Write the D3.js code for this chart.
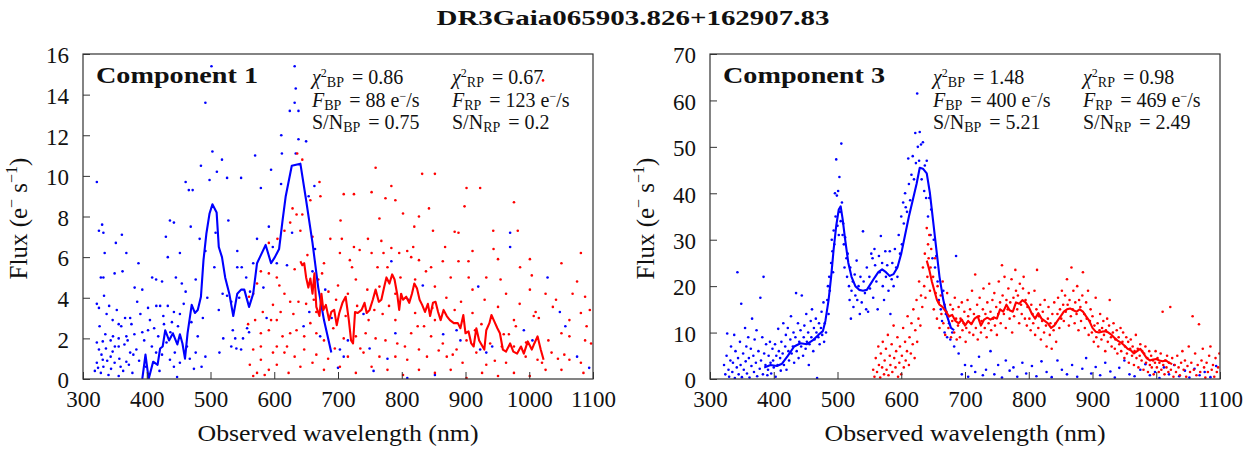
<!DOCTYPE html>
<html>
<head>
<meta charset="utf-8">
<script src="https://cdn.jsdelivr.net/npm/d3@7"></script>
<style>
  body { margin: 0; background: #fff; }
</style>
</head>
<body>
<svg id="chart" width="1255" height="450"></svg>
<script>
// ---- data ----
const chartTitle = "DR3Gaia065903.826+162907.83";
const panelNames = ["Component 1", "Component 3"];
const chi2Bp = ["0.86", "1.48"];
const chi2Rp = ["0.67", "0.98"];
const fluxBp = ["88", "400"];
const fluxRp = ["123", "469"];
const snBp = ["0.75", "5.21"];
const snRp = ["0.2", "2.49"];
const xTicks = [300, 400, 500, 600, 700, 800, 900, 1000, 1100];
const yTicks1 = [0, 2, 4, 6, 8, 10, 12, 14, 16];
const yTicks3 = [0, 10, 20, 30, 40, 50, 60, 70];

// component 1: BP model line (wavelength nm, flux)
const comp1BpLine = [[393,0],[398,1.2],[403,0],[410,0.85],[417,0.7],[421,1.5],[425,1.6],[429,2.4],[435,1.9],[441,2.25],
  [448,1.7],[452,2.2],[456,1.75],[460,1.0],[464,2.25],[470.5,3.65],[475.5,3.25],[480,3.4],[485,4.05],[489,5.85],
  [493.5,7.15],[498.5,8.15],[503,8.6],[509.6,8.2],[513,6.5],[518,6.0],[523,5.0],[529.5,4.2],[535.7,3.1],[542,4.2],
  [548,4.4],[553,4.4],[560.5,3.55],[567,4.2],[573,5.7],[579,6.1],[586.5,6.6],[595,5.7],[601,6.0],[607.6,6.4],
  [613,7.8],[618,9.0],[627.5,10.5],[641,10.6],[650,8.8],[660,6.7],[669,4.5],[678,2.9],[689.5,1.3]];
// component 1: RP model line
const comp1RpLine = [[641,5.8],[644,5.6],[647,5.7],[650,5.0],[653.5,4.5],[656.6,4.95],[660,4.2],[663,5.2],[666,3.55],[671,3.1],
  [674,4.2],[677,3.4],[681,3.65],[686,2.9],[689.5,3.3],[694,3.4],[698,2.65],[702,3.25],[707,3.75],[712,4.05],
  [717,2.9],[720.5,1.9],[723.6,1.75],[726.7,3.3],[731,3.25],[737,3.4],[741.6,3.75],[745,3.25],[749.6,3.4],[754.6,3.9],
  [759,4.4],[764,3.8],[768,3.9],[772.6,4.55],[776,5.0],[780.7,4.7],[785,5.15],[788.7,4.9],[793,4.15],[796,3.4],
  [799,4.2],[802,3.9],[807,4.05],[811.7,3.75],[816,4.2],[819.7,4.7],[824,4.45],[828,3.9],[832,3.65],[836.5,3.3],
  [841,3.7],[844.5,3.1],[849,3.75],[853,3.8],[857,3.3],[861,2.9],[865.6,3.4],[870.6,3.1],[875.5,2.9],[881.7,2.75],
  [888,2.75],[892,2.5],[896.6,3.15],[900,2.25],[904.7,2.35],[909,1.75],[912.8,1.6],[917,2.5],[921.4,1.9],[925,1.7],
  [929.5,1.45],[932.6,2.4],[937.5,2.75],[940.7,3.15],[945,2.85],[950,2.5],[954,2.25],[958.6,1.45],[963.6,1.35],[970,1.75],
  [975,1.35],[981,1.25],[987,1.6],[991.5,1.25],[997.7,1.85],[1004,1.45],[1008,1.75],[1013,2.1],[1018,1.45],[1022.5,0.95]];
// component 1: BP sampled points
const comp1BpPts = [[501.5,15.4],[632,15.4],[633.7,14.3],[492,13.6],[632,13.6],[624.4,13.2],[638,13.2],[611,12.0],[638,11.8],[650,11.7],
  [503,11.2],[518,10.8],[485,10.5],[510,10.2],[612,11.1],[595,10.3],[570,11.0],[633.7,11.1],[498.5,9.8],[526,9.9],
  [548,9.9],[610.7,9.6],[663,9.5],[466,9.3],[472,9.3],[579,9.4],[461,9.7],[321.7,9.7],[330,7.6],[325,7.3],
  [332,7.2],[436.4,7.8],[442.6,7.7],[361,7.1],[430,7.0],[351.5,6.7],[469,7.5],[483,6.9],[492,6.3],[508,7.2],
  [528,7.8],[542,6.3],[573,6.9],[591.5,7.5],[597.7,6.5],[604,5.7],[567,5.7],[549,5.5],[542,5.5],[433,6.0],
  [452,6.2],[334,6.2],[368,6.2],[387,5.7],[362,5.3],[349.6,5.2],[328,5.0],[332,5.0],[381,4.5],[393,4.4],
  [408.5,5.0],[414.7,4.9],[424,4.8],[445.7,5.0],[455,4.7],[461,4.3],[476.8,4.9],[519,4.2],[526,4.1],[532.6,3.8],
  [545,4.0],[562,4.3],[333,4.1],[321.7,3.7],[325,3.5],[337,3.2],[346.5,2.9],[356,2.7],[374,3.0],[390,3.2],
  [402,3.5],[415,3.6],[421,3.6],[433,3.6],[442.6,3.3],[452,3.2],[439.5,2.8],[427,2.7],[411.6,2.5],[402,2.4],
  [393,2.3],[380.6,2.2],[368,2.1],[356,2.0],[343.4,1.9],[331,1.85],[321.7,1.8],[325,1.45],[336,1.5],[346.5,1.35],
  [356,1.6],[365,1.7],[374,1.3],[383.7,1.45],[343.4,1.1],[331,0.95],[321.7,0.8],[323.6,0.55],[332,0.6],[349.6,0.8],
  [359,0.6],[368,0.85],[318.6,0.4],[328,0.3],[340,0.2],[356,0.15],[377.5,0.3],[414.7,1.3],[424,1.2],[436.4,0.95],
  [442.6,0.6],[452,0.8],[447.6,0.1],[467.5,1.0],[476.8,1.3],[486,0.6],[492,1.1],[514,1.3],[532.6,1.6],[540.6,1.5],
  [548,1.45],[551,2.0],[538.8,2.0],[557.4,2.5],[560.5,2.3],[520,2.0],[700,0.55],[709,1.1],[749.6,1.5],[777.6,1.0],
  [790,2.25],[783.7,5.8],[833,4.6],[886,2.4],[892,1.9],[920,4.55],[923,1.45],[932.6,1.3],[970,7.2],[970,6.5],
  [991.5,2.4],[1028.7,5.0],[1056.6,2.6],[1075,1.1],[1094,0.55],[941.9,1.6],[852,0.2],[808.7,0.05],[755.8,0.4],[715.5,1.9],
  [703,1.45],[690,3.0],[680,4.4],[672,2.1],[655,3.3],[646,2.6],[660,5.3],[740,3.2],[810,3.9],[865,2.2],
  [1005,1.9],[1048,3.3],[326,2.6],[329,1.2],[335,2.2],[338,0.9],[341,3.6],[344,0.5],[347,2.1],[350,1.6],
  [353,3.4],[357,1.0],[360,2.6],[363,0.4],[366,3.0],[370,1.9],[372,0.7],[376,2.7],[379,1.2],[385,3.8],
  [388,0.9],[396,1.9],[399,0.6],[405,2.9],[408,1.6],[418,2.1],[420,0.4],[426,3.1],[431,1.8],[437,2.3],
  [444,1.3],[449,2.6],[458,3.7],[463,1.6],[470,2.8],[474,0.5],[480,2.1],[488,3.0],[495,4.0],[506,5.5],
  [513,3.4],[535,2.4],[556,5.0],[583,4.5],[588,3.0],[620,5.6],[628,7.2],[654,9.0],[664,6.4]];
// component 1: RP sampled points
const comp1RpPts = [[1021.6,14.7],[636,11.1],[644,10.8],[759,10.4],[832,10.1],[852,10.1],[671,9.7],[783.7,9.5],[901.6,9.4],[923,9.4],
  [709,9.1],[725,9.1],[752.7,9.2],[672.4,9.0],[790,8.8],[774.5,8.9],[656.6,8.8],[976,8.7],[898.5,8.5],[842.7,8.4],
  [827,8.0],[628.7,8.4],[635,8.1],[644,8.1],[765,7.9],[704,7.8],[802,8.15],[819.7,7.5],[883,7.25],[889,7.2],
  [943.5,7.3],[982,7.3],[1081,6.2],[849,7.3],[747,6.9],[688,6.9],[706,6.9],[725,6.5],[660,7.0],[641,7.3],
  [625,7.7],[616,7.3],[605,6.9],[591.5,6.7],[808.6,6.3],[818,6.5],[889,5.8],[904.7,5.8],[944,6.4],[951,5.9],
  [1001,5.9],[1050.5,5.7],[1075,4.8],[1087.6,4.05],[1025.6,4.2],[1004,5.1],[985.6,5.5],[911,6.3],[762,5.5],[777.6,5.5],
  [728,4.9],[700,4.6],[669,4.9],[632,5.4],[604,5.0],[579,5.3],[591.5,5.2],[573,4.7],[567,4.2],[560.5,4.05],
  [616,4.2],[625,3.8],[638,3.8],[650,3.7],[610,3.3],[598,3.65],[582,3.3],[570,2.9],[559,2.7],[579,2.25],
  [591.5,2.4],[604,2.9],[613,2.1],[625,2.25],[635,2.4],[647,2.1],[656.6,2.75],[666,2.25],[678,1.9],[692.6,2.5],
  [709,2.0],[728,2.1],[743.4,2.25],[759,2.0],[774.5,1.9],[793,1.75],[814.8,2.25],[827,1.45],[846,2.1],[864.4,1.75],
  [886,1.45],[901.6,1.9],[917,1.3],[938.7,1.75],[957,1.6],[976,1.6],[994.4,1.1],[1013,0.95],[1035,1.3],[1050.5,2.25],
  [1063,2.1],[1081,3.25],[1087.6,1.9],[1097,1.75],[1081,0.8],[1063,0.95],[1050.5,0.45],[1025.6,0.45],[1000.8,0.15],[976,0.3],
  [951,0.15],[926,0.3],[901.6,0.05],[876.8,0.45],[852,0.3],[827,0.45],[802,0.2],[777.6,0.45],[752.7,0.6],[728,0.3],
  [703,0.6],[678,0.45],[660,0.8],[641,0.6],[622.5,0.3],[604,0.7],[591.5,0.45],[579,0.95],[573,0.3],[567,0.15],
  [561.7,0.7],[598,1.3],[616,1.3],[632,1.1],[647,1.45],[666,1.2],[684.5,1.0],[604,1.6],[579,1.6],[567,1.45],
  [790,1.1],[808.6,0.95],[839.6,1.1],[870.6,1.1],[895.4,0.8],[932.6,0.7],[963.6,0.8],[715.5,1.1],[740,1.3],[765,1.1],
  [666,3.3],[697,3.9],[715.5,4.2],[746,4.4],[765,4.55],[790,4.2],[821,4.9],[852,4.55],[876.8,5.0],[911,4.4],
  [932.6,5.0],[864.4,5.8],[846,5.5],[827,5.85],[814.8,6.0],[796,6.2],[783.7,6.45],[771.4,6.2],[752.7,6.2],[734,6.35],
  [718.6,5.85],[703,6.2],[678,5.7],[790,2.9],[821,3.25],[852,2.9],[883,3.4],[911,3.25],[951,3.55],[976,2.9],
  [1007,3.1],[1037,3.55],[1063,2.9],[963.6,4.2],[1001,4.4],[979,2.6],[685,4.3],[730,3.6],[770,3.2],[835,2.6],
  [870,4.0],[925,2.7],[960,2.2],[1015,3.0],[1045,1.0],[1090,2.6],[585,0.2],[595,2.9],[608,4.6],[620,1.6],
  [630,3.2],[652,6.1],[662,3.9],[675,5.2],[695,1.5],[712,3.1],[722,5.5],[735,1.5],[748,2.9],[757,3.4],
  [768,6.8],[780,3.6],[798,5.0],[805,1.6],[825,2.6],[838,5.3],[848,3.5],[858,1.4],[868,6.5],[880,1.2],
  [893,3.8],[905,5.0],[915,2.4],[930,3.9],[946,0.9],[955,4.9],[968,2.2],[985,3.7],[995,1.8],[1010,3.3],
  [1020,0.8],[1030,1.9],[1042,3.9],[1055,1.2],[1068,4.2],[1085,0.3],[1095,3.4]];

// component 3: BP model line
const comp3BpLine = [[385,2.5],[395,3.0],[405,2.8],[413,3.3],[422,5.0],[432,7.0],[442,7.7],[452,7.5],[461,8.3],[470,9.5],
  [477,10.3],[481,12.5],[486,17],[490,22],[494,28],[498,33],[502,36.5],[505,37.2],[508,34.5],[512,30],
  [517,25],[522,22],[528,20],[534,19.2],[540,19],[546,19.2],[552,20.5],[558,21.8],[564,23],[570,23.6],
  [576,23],[582,22.2],[588,22.6],[594,24],[600,27],[606,31],[612,35],[618,38.5],[624,42],[629,45.5],
  [634,45.3],[640,44.3],[645,40],[650,34],[655,28],[660,22],[666,17],[672,13.5],[678,11],[683,10.5]];
// component 3: RP model line
const comp3RpLine = [[640,25.5],[644,23.5],[648,21],[652,19],[656,17],[660,16],[665,15.5],[670,14.5],[675,13.5],[680,13.8],
  [685,12.5],[690,12],[695,12.8],[700,11.5],[705,12.5],[710,11.8],[715,13],[720,13.5],[725,11.5],[730,12.8],
  [735,13.2],[740,12.8],[745,13.3],[750,13],[755,15],[760,14.5],[765,16],[770,14.8],[775,14.5],[780,16.5],
  [785,16.2],[790,17],[795,16.5],[800,15.5],[805,14],[810,13],[815,14.2],[820,13],[825,12.5],[830,12],
  [835,11],[840,11.5],[845,12.5],[850,13.5],[855,14.5],[860,15],[865,15.2],[870,14.8],[875,14.5],[880,15],
  [885,14.5],[890,13.5],[895,12.5],[900,11],[905,10.2],[910,10],[915,10.2],[920,10.3],[925,10],[930,9.5],
  [935,8.8],[940,8.2],[945,7.8],[950,7.2],[955,6.5],[960,6.2],[965,5.5],[970,6],[975,6.5],[980,5.5],
  [985,4.5],[990,4],[995,4.2],[1000,4.3],[1005,4],[1010,3.8],[1015,4],[1020,3.5],[1025,3.2]];
// component 3: BP sampled points
const comp3BpPts = [[322,3],[324,1],[326,5],[327,9.8],[329,2],[330,0.5],[332,4],[333,7],[335,1.5],[336,3.5],
  [338,9.5],[339,0.2],[340,6],[342,2.5],[343,23],[344,4.5],[345,1],[347,8],[348,3],[349,16.2],
  [350,0.4],[352,5.5],[353,2],[355,11],[356,3.8],[357,7],[358,1.2],[360,9],[361,4.5],[362,0.3],
  [364,6.5],[365,2.8],[366,13],[368,5],[369,1.5],[370,8.5],[372,3.5],[373,10.5],[374,0.6],[376,6],
  [378,2.2],[379,17.5],[380,4],[382,9],[383,1],[384,22],[385,5.5],[387,3],[388,7.5],[390,0.8],
  [391,2],[392,5],[394,8],[395,3.5],[396,1.2],[398,6.5],[399,4],[400,2.5],[402,7.5],[403,0.5],
  [404,5],[406,3],[407,10.8],[408,6],[410,4.5],[411,1.8],[412,8],[414,5.5],[415,12],[416,3],
  [418,7],[419,9.5],[420,2],[422,11],[423,6],[424,4],[426,8.5],[427,13.5],[428,5.5],[430,7],
  [431,10],[432,3.5],[434,9],[435,18.5],[436,6],[438,12],[439,4.5],[440,8],[442,10.5],[443,7],
  [444,18],[446,5],[447,9],[448,11.5],[450,6.5],[451,14],[452,8],[454,10],[455,3],[456,7.5],
  [458,12.5],[459,9],[460,15],[462,6],[463,11],[464,8.5],[466,13],[467,10],[468,0.2],[470,9],
  [471,12],[472,7.5],[474,11],[475,14.5],[476,9.5],[478,16.5],[479,8],[480,12],[482,10],[484,17],
  [485,20],[486,14],[487,22],[488,19],[490,25],[491,30],[492,27.5],[493,23],[494,32],[495,29],
  [496,40],[497,35],[498,47.3],[499,39.5],[500,33],[501,40.5],[502,31],[503,43.5],[504,36],[505,34],
  [506,50.7],[507,38],[508,31],[509,33.5],[510,29],[511,24],[512,30.5],[514,26],[515,22],[516,27],
  [518,20],[519,17],[520,24],[521,13],[522,19],[524,21],[525,15.5],[527,22.5],[528,18],[530,25.5],
  [531,17],[533,20],[535,14],[536,22],[538,16.5],[540,31.8],[541,21],[543,18.5],[545,15],[546,24],
  [548,14.5],[550,22],[551,19.5],[553,27],[555,26],[556,17.5],[558,28],[559,24.5],[561,21],[563,15],
  [565,26.5],[566,23],[568,30.8],[570,25],[571,20],[573,17],[575,27.5],[576,22],[578,24.5],[580,19],
  [582,27.5],[583,14],[585,21.5],[586,25],[588,20],[590,28],[592,24],[594,22],[596,31],[598,27],
  [600,35],[601,29],[603,38],[604,33.5],[606,40],[607,37],[609,36],[611,47.5],[612,42],[614,38.5],
  [616,44],[618,48],[620,43],[622,53],[623,46.5],[625,61.5],[626,50],[628,47],[629,53.2],[631,50.5],
  [632,43],[634,51],[636,40.5],[637,46],[639,39],[640,47],[642,35],[644,39],[646,31],[647,36.5],
  [649,26],[651,30],[653,24],[655,26.5],[657,21],[659,17],[662,15],[664,12.5],[666,19],[668,10],
  [670,14],[672,9],[675,12],[677,8.5],[680,10],[683,7],[686,26.5],[690,5.5],[695,1],[700,3],
  [705,0.5],[710,2.8],[716,1.5],[722,4.8],[728,0.8],[733,2],[740,6],[746,1],[752,3],[758,0.3],
  [764,4],[770,1.8],[776,2.5],[782,0.5],[790,3.5],[796,1.2],[805,2.8],[812,0.6],[820,3.8],[828,1.5],
  [836,0.4],[845,4],[852,2],[860,1],[868,3],[876,0.5],[884,2.2],[890,4.5],[898,1.2],[905,2.6],
  [912,0.8],[920,3.5],[928,1.6],[935,0.3],[942,2.4],[950,4],[958,1],[966,0.6],[975,2],[983,3.2],
  [990,0.8],[998,1.5],[1005,0.2],[1012,2.5],[1020,1],[1028,3],[1036,0.6],[1045,1.8],[1052,0.3],[1060,2.2],
  [1068,0.8],[1076,1.5],[1085,0.4],[1094,2.8]];
// component 3: RP sampled points
const comp3RpPts = [[556,2],[558,0.5],[560,4.5],[562,1.5],[564,7],[565,3],[567,0.3],[568,5.5],[570,2.5],[571,8],
  [573,1],[574,4],[576,6.5],[577,2],[579,9.5],[580,0.8],[582,5],[583,3],[585,7.5],[586,1.5],
  [588,11.5],[589,4.5],[591,2.5],[592,6],[594,9],[595,0.5],[597,3.5],[598,7],[600,1],[601,5],
  [603,11],[604,2.5],[606,8],[607,4],[609,6],[610,13.5],[612,3],[613,9],[615,5.5],[616,12],
  [618,7.5],[619,15],[621,4.5],[622,10.5],[624,17],[625,8],[627,13],[628,21],[630,11.5],[631,18],
  [633,15.5],[634,24],[636,20],[637,27],[638,17.5],[640,32.5],[641,22],[642,29],[643,26],[644,31],
  [645,19],[646,24],[647,28],[650,22],[651,15],[653,26],[654,18.5],[656,13],[657,20],[659,16.5],
  [660,11],[662,18],[663,14],[665,21],[666,12],[668,16],[669,9.5],[671,14.5],[672,18.5],[674,11],
  [675,13.5],[677,16],[678,9],[680,12.5],[681,15],[683,10],[684,17.5],[686,13],[687,8.5],[689,11.5],
  [690,15.5],[692,9],[693,13],[695,16.5],[696,10.5],[698,12],[699,14.5],[701,8],[702,11],[704,17],
  [705,13.5],[707,10],[708,15],[710,12],[711,19],[713,9.5],[714,14],[716,22.5],[717,11],[719,16],
  [720,8.5],[722,13.5],[723,17.5],[725,10],[726,12.5],[728,15],[729,19.5],[731,11],[732,14],[734,9],
  [735,16.5],[737,12],[738,20.5],[740,14.5],[741,10.5],[743,17],[744,13],[746,18.5],[747,11.5],[749,15.5],
  [750,9.5],[752,14],[753,21],[755,16.5],[756,12],[758,24.5],[759,18],[761,14],[762,22],[764,11],
  [765,17],[767,15],[768,19.5],[770,13],[771,16.5],[773,21.5],[774,10],[776,17.5],[777,13.5],[779,23.5],
  [780,19],[782,15],[783,18],[785,12],[786,20.5],[788,16],[789,14],[791,19.5],[792,22],[794,13],
  [795,17],[797,11.5],[798,15.5],[800,18.5],[801,13],[803,10.5],[804,16],[806,14],[807,12],[809,19],
  [810,9.5],[812,15],[813,23.5],[815,11],[816,13.5],[818,16],[819,8.5],[821,12.5],[822,14.5],[824,10],
  [825,17],[827,11.5],[828,7],[830,13],[831,15.5],[833,9.5],[834,12],[836,6.5],[837,14],[839,10.5],
  [840,16.5],[842,12],[843,8],[845,14],[846,17.5],[848,11],[849,15],[851,13],[852,19],[854,16],
  [855,12.5],[857,18],[858,14.5],[860,21.5],[861,16],[863,11.5],[864,17],[866,13.5],[867,24],[869,15],
  [870,19],[872,12],[873,16.5],[875,14],[876,20],[878,10.5],[879,17],[881,15.5],[882,12.5],[884,18],
  [885,23],[887,14],[888,11],[890,16.5],[891,13],[893,19],[894,9.5],[896,12.5],[897,15],[899,10],
  [900,13.5],[902,8],[903,11.5],[905,17.5],[906,9],[908,12],[909,7],[911,10.5],[912,14],[914,8.5],
  [915,11],[917,12.5],[918,9.5],[920,6],[921,10.5],[923,13],[924,8],[926,11.5],[927,17],[929,9],
  [930,7],[932,10],[933,12],[935,6.5],[936,8.5],[938,10.5],[939,5.5],[941,9],[942,7.5],[944,11],
  [945,6],[947,8],[948,10],[950,4.5],[951,7],[953,9],[954,5.5],[956,8],[957,3.5],[959,6.5],
  [960,8.5],[962,5],[963,7],[965,3],[966,6],[968,9.5],[969,4.5],[971,6.5],[972,2.5],[974,5],
  [975,7.5],[977,4],[978,6],[980,2],[981,5.5],[983,7],[984,3.5],[986,4.5],[987,1.5],[989,6],
  [990,3],[992,5],[993,2.5],[995,4],[996,1],[998,3.5],[999,6],[1001,2.5],[1002,4.5],[1004,1.5],
  [1005,3.5],[1007,5.5],[1008,2],[1010,14.5],[1011,3],[1013,1],[1014,4],[1016,2.5],[1017,5],[1019,1.5],
  [1020,3.5],[1022,15.5],[1023,2],[1025,4.5],[1027,0.5],[1029,3],[1031,1.5],[1033,5],[1035,2.5],[1037,0.8],
  [1039,3.5],[1041,6],[1043,2],[1045,4],[1047,0.5],[1049,2.8],[1051,7],[1053,1.5],[1055,3.5],[1057,13.5],
  [1059,2],[1061,5.5],[1063,0.8],[1065,3],[1067,11.8],[1069,1.5],[1071,4],[1073,6.5],[1075,2.5],[1077,0.3],
  [1079,3.5],[1081,1.5],[1083,5],[1085,7],[1087,2],[1089,3],[1091,0.5],[1093,4.5],[1095,1.5],[1097,2.5],[1099,5.5]];

// ---- drawing ----
const svg = d3.select("#chart");
const blue = "#0000ff", red = "#ff0000";
const statCols = [[312, 452], [933, 1083]];

// every text gets the serif face explicitly (single family name)
function txt(sel) {
  return sel.append("text").style("font-family", "'Liberation Serif'").attr("fill", "#111");
}

txt(svg)
  .attr("x", 633).attr("y", 25)
  .attr("text-anchor", "middle")
  .attr("font-weight", "bold")
  .attr("font-size", 21)
  .attr("textLength", 393).attr("lengthAdjust", "spacingAndGlyphs")
  .text(chartTitle);

function drawPanel(i, left, yMax, yTicks, bpLine, rpLine, bpPts, rpPts) {
  const top = 54, bottom = 379, right = left + 510;
  const x = d3.scaleLinear().domain([300, 1100]).range([left, right]);
  const y = d3.scaleLinear().domain([0, yMax]).range([bottom, top]);
  const g = svg.append("g");

  const clipId = "clip" + i;
  g.append("clipPath").attr("id", clipId)
    .append("rect").attr("x", left).attr("y", top).attr("width", right - left).attr("height", bottom - top);

  const plot = g.append("g").attr("clip-path", `url(#${clipId})`);
  const line = d3.line().x(d => x(d[0])).y(d => y(d[1]));

  plot.append("g").selectAll("circle").data(bpPts).join("circle")
    .attr("cx", d => x(d[0])).attr("cy", d => y(d[1])).attr("r", 1.3).attr("fill", blue);
  plot.append("g").selectAll("circle").data(rpPts).join("circle")
    .attr("cx", d => x(d[0])).attr("cy", d => y(d[1])).attr("r", 1.3).attr("fill", red);
  plot.append("path").datum(bpLine).attr("d", line)
    .attr("fill", "none").attr("stroke", blue).attr("stroke-width", 2.1).attr("stroke-linejoin", "round");
  plot.append("path").datum(rpLine).attr("d", line)
    .attr("fill", "none").attr("stroke", red).attr("stroke-width", 2.1).attr("stroke-linejoin", "round");

  // axes, ticks pointing inwards
  const xAxis = g.append("g").attr("transform", `translate(0,${bottom})`)
    .call(d3.axisBottom(x).tickValues(xTicks).tickSize(-7).tickPadding(12).tickFormat(d3.format("d")));
  const yAxis = g.append("g").attr("transform", `translate(${left},0)`)
    .call(d3.axisLeft(y).tickValues(yTicks).tickSize(-7).tickPadding(14).tickFormat(d3.format("d")));
  [xAxis, yAxis].forEach(a => {
    a.attr("font-family", "Liberation Serif");
    a.select(".domain").remove();
    a.selectAll(".tick line").attr("stroke", "#333");
    a.selectAll(".tick text").attr("font-size", 23).attr("fill", "#111").style("font-family", "'Liberation Serif'");
  });
  yAxis.selectAll(".tick text").attr("dy", "0.38em");

  g.append("rect").attr("x", left).attr("y", top).attr("width", right - left).attr("height", bottom - top)
    .attr("fill", "none").attr("stroke", "#333").attr("stroke-width", 1.2);

  // axis labels
  txt(g).attr("x", (left + right) / 2).attr("y", 441)
    .attr("text-anchor", "middle").attr("font-size", 24)
    .attr("textLength", 281).attr("lengthAdjust", "spacingAndGlyphs")
    .text("Observed wavelength (nm)");
  const yl = txt(g)
    .attr("transform", `translate(${left - 56},${(top + bottom) / 2 + 2}) rotate(-90)`)
    .attr("text-anchor", "middle").attr("font-size", 25);
  yl.append("tspan").text("Flux (e");
  yl.append("tspan").attr("font-size", 16).attr("dy", -10).text("−");
  yl.append("tspan").attr("dy", 10).text(" s");
  yl.append("tspan").attr("font-size", 16).attr("dy", -10).text("−1");
  yl.append("tspan").attr("dy", 10).text(")");

  // panel name
  txt(g).attr("x", left + 13).attr("y", 83)
    .attr("font-weight", "bold").attr("font-size", 23)
    .attr("textLength", 162).attr("lengthAdjust", "spacingAndGlyphs")
    .text(panelNames[i]);

  // statistics block
  const band = ["BP", "RP"];
  const chi = [chi2Bp[i], chi2Rp[i]], fl = [fluxBp[i], fluxRp[i]], sn = [snBp[i], snRp[i]];
  statCols[i].forEach((cx, k) => {
    const t1 = txt(g).attr("x", cx).attr("y", 84).attr("font-size", 20);
    t1.append("tspan").attr("font-style", "italic").text("χ");
    t1.append("tspan").attr("font-size", 12).attr("dy", -7).text("2");
    t1.append("tspan").attr("font-size", 14).attr("dy", 10).text(band[k]);
    t1.append("tspan").attr("dx", 3).attr("dy", -3).text(" = " + chi[k]);

    const t2 = txt(g).attr("x", cx).attr("y", 107).attr("font-size", 20);
    t2.append("tspan").attr("font-style", "italic").text("F");
    t2.append("tspan").attr("font-size", 14).attr("dy", 3).text(band[k]);
    t2.append("tspan").attr("dx", 3).attr("dy", -3).text(" = " + fl[k] + " e");
    t2.append("tspan").attr("font-size", 12).attr("dy", -7).text("−");
    t2.append("tspan").attr("dy", 7).text("/s");

    const t3 = txt(g).attr("x", cx).attr("y", 129).attr("font-size", 20);
    t3.append("tspan").text("S/N");
    t3.append("tspan").attr("font-size", 14).attr("dy", 3).text(band[k]);
    t3.append("tspan").attr("dx", 3).attr("dy", -3).text(" = " + sn[k]);
  });
}

drawPanel(0, 83, 16, yTicks1, comp1BpLine, comp1RpLine, comp1BpPts, comp1RpPts);
drawPanel(1, 710, 70, yTicks3, comp3BpLine, comp3RpLine, comp3BpPts, comp3RpPts);
</script>
</body>
</html>
